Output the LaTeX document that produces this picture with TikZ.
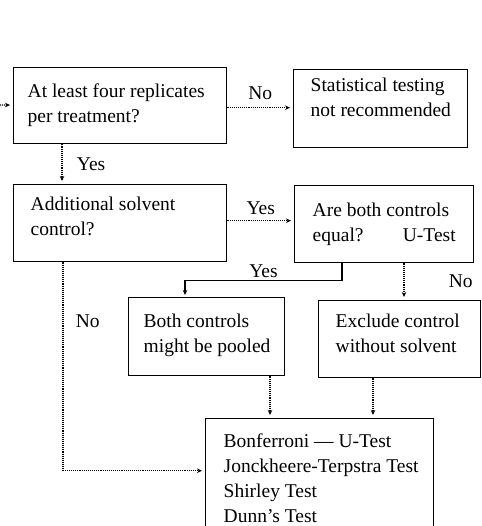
\documentclass[tikz,border=0pt]{standalone}
\usepackage{fontspec}
\setmainfont{Liberation Serif}
\usetikzlibrary{arrows.meta}

\newcommand{\bodyfont}{\fontsize{19.5}{25}\selectfont}
% height, width, top pad, left pad, text
\newcommand{\boxtext}[5]{\parbox[c][#1][t]{#2}{\leftskip=#4\relax\parindent=0pt\vspace*{#3}#5}}

\begin{document}
\begin{tikzpicture}[x=1pt, y=-1pt,
    stepbox/.style={draw, line width=1.4pt, anchor=north west, inner sep=0pt, font=\bodyfont},
    flow/.style={densely dotted, line width=1.1pt, shorten >=3pt, -{Stealth[length=5pt,width=4.5pt]}},
    solidflow/.style={line width=1.1pt, shorten >=2pt, -{Stealth[length=5pt,width=4.5pt]}},
    lbl/.style={font=\bodyfont}]
    \clip (0,0) rectangle (481,526);

    % Boxes
    \node[stepbox] (qfour) at (13,67) {\boxtext{76pt}{213pt}{16.5pt}{14pt}{At least four replicates\\per treatment?}};
    \node[stepbox] (notrec) at (293,69) {\boxtext{78pt}{174pt}{8.5pt}{17pt}{Statistical testing\\not recommended}};
    \node[stepbox] (solvent) at (13,184) {\boxtext{77pt}{213pt}{12.5pt}{17pt}{Additional solvent\\control?}};
    \node[stepbox] (equal) at (294,185) {\boxtext{77pt}{179pt}{17.5pt}{18pt}{Are both controls\\equal?\hfill U-Test\hspace*{18pt}}};
    \node[stepbox] (pooled) at (128,297) {\boxtext{78pt}{156pt}{16pt}{15pt}{Both controls\\might be pooled}};
    \node[stepbox] (exclude) at (318,300) {\boxtext{77pt}{162pt}{13pt}{17pt}{Exclude control\\without solvent}};
    \node[stepbox] (tests) at (205,418) {\boxtext{130pt}{228pt}{15.5pt}{18pt}{Bonferroni --- U-Test\\Jonckheere-Terpstra Test\\Shirley Test\\Dunn's Test}};

    % Arrows
    \coordinate (entry) at (0,105);
    \draw[flow] (entry) -- (qfour);
    \draw[flow] ([yshift=-2pt]qfour.east) -- ([yshift=-2pt]qfour.east -| notrec.west) node[midway, above=4pt, lbl] {No};
    \draw[flow] ([xshift=49pt]qfour.south west) -- ([xshift=49pt]solvent.north west) node[midway, right=11pt, lbl] {Yes};
    \draw[flow] ([yshift=2.5pt]solvent.east) -- ([yshift=2.5pt]solvent.east -| equal.west) node[midway, above=2pt, lbl] {Yes};
    \draw[solidflow] ([xshift=48pt]equal.south west) -- ++(0,17) -| ([xshift=57pt]pooled.north west) node[pos=0.25, above, inner sep=2pt, lbl] {Yes};
    \draw[flow] ([xshift=110pt]equal.south west) -- ([xshift=86pt]exclude.north west) node[midway, right=41pt, lbl] {No};
    \draw[flow] ([xshift=50pt]solvent.south west) |- ([yshift=13pt]tests.west) node[pos=0.14, right=9pt, lbl] {No};
    \draw[flow] ([xshift=142pt]pooled.south west) -- ([xshift=65pt]tests.north west);
    \draw[flow] ([xshift=55pt]exclude.south west) -- ([xshift=168pt]tests.north west);
\end{tikzpicture}
\end{document}
